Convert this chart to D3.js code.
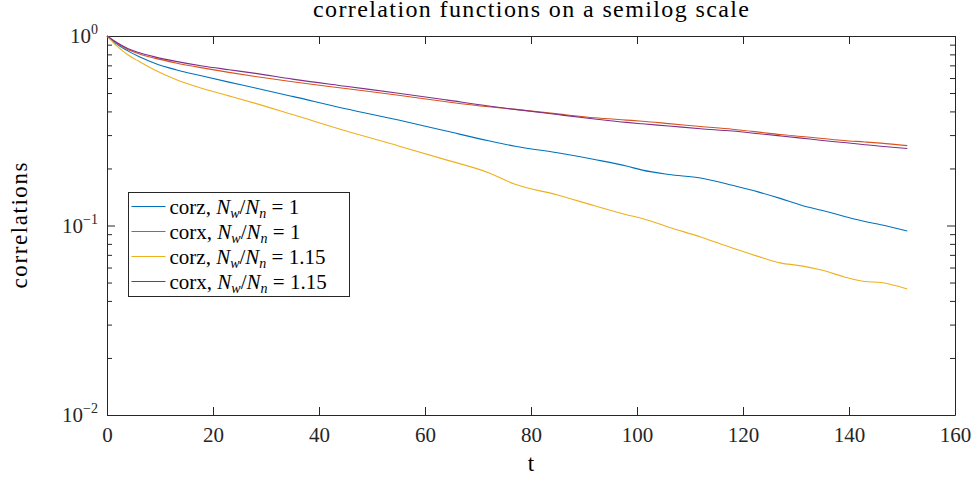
<!DOCTYPE html>
<html>
<head>
<meta charset="utf-8">
<script src="https://cdn.jsdelivr.net/npm/d3@7"></script>
<style>
  body { margin: 0; background: #fff; }
  svg { display: block; }
</style>
</head>
<body>
<svg width="974" height="478"></svg>
<script>
// time steps
const tValues = [0, 2, 4, 6, 9, 13, 18, 23, 28, 35, 45, 55, 64, 72, 77, 85, 92, 98, 101, 106, 112, 118, 123, 127, 131, 135, 139, 143, 146, 151];

// corz, Nw/Nn = 1
const corz1 = [1, 0.90, 0.832, 0.78, 0.719, 0.664, 0.615, 0.571, 0.532, 0.48, 0.413, 0.36, 0.315, 0.28, 0.262, 0.242, 0.223, 0.206, 0.196, 0.186, 0.178, 0.163, 0.15, 0.139, 0.128, 0.12, 0.112, 0.105, 0.101, 0.0935];
// corx, Nw/Nn = 1
const corx1 = [1, 0.912, 0.847, 0.807, 0.764, 0.721, 0.679, 0.643, 0.611, 0.573, 0.528, 0.487, 0.45, 0.423, 0.41, 0.388, 0.37, 0.36, 0.355, 0.345, 0.333, 0.322, 0.311, 0.302, 0.295, 0.288, 0.281, 0.276, 0.272, 0.264];
// corz, Nw/Nn = 1.15
const corz115 = [1, 0.879, 0.794, 0.735, 0.661, 0.589, 0.528, 0.483, 0.441, 0.385, 0.316, 0.263, 0.222, 0.19, 0.165, 0.145, 0.127, 0.114, 0.109, 0.098, 0.087, 0.076, 0.0685, 0.0635, 0.0612, 0.058, 0.0537, 0.0506, 0.05, 0.0462];
// corx, Nw/Nn = 1.15
const corx115 = [1, 0.918, 0.857, 0.818, 0.776, 0.735, 0.695, 0.664, 0.635, 0.592, 0.543, 0.499, 0.46, 0.427, 0.41, 0.385, 0.365, 0.35, 0.344, 0.335, 0.324, 0.315, 0.305, 0.297, 0.289, 0.281, 0.274, 0.267, 0.262, 0.255];

const seriesNames = ["corz", "corx", "corz", "corx"];
const ratioLabels = ["1", "1", "1.15", "1.15"];
const colors = ["#0072BD", "#D95319", "#EDB120", "#7E2F8E"];
const xTicks = [0, 20, 40, 60, 80, 100, 120, 140, 160];
const yMajorTicks = [0.01, 0.1, 1];
const yExponents = ["\u22122", "\u22121", "0"];

const svg = d3.select("svg");
const axisColor = "#262626";
const serif = "Liberation Serif";

const margin = { top: 36, right: 19, bottom: 63, left: 107 };
const width = +svg.attr("width");
const height = +svg.attr("height");
const innerWidth = width - margin.left - margin.right;
const innerHeight = height - margin.top - margin.bottom;

const xScale = d3.scaleLinear().domain([0, 160]).range([0, innerWidth]);
const yScale = d3.scaleLog().domain([0.01, 1]).range([innerHeight, 0]);

const g = svg.append("g")
  .attr("transform", `translate(${margin.left}, ${margin.top})`)
  .attr("font-family", serif);

// minor log ticks
const yMinorTicks = [];
[0.01, 0.1].forEach((base) => {
  for (let k = 2; k <= 9; k++) yMinorTicks.push(base * k);
});

const styleAxis = (sel) => {
  sel.attr("font-family", serif);
  sel.select(".domain").attr("stroke", axisColor);
  sel.selectAll(".tick line").attr("stroke", axisColor);
  sel.selectAll(".tick text")
    .attr("fill", axisColor)
    .attr("font-size", 21);
};
const dropLabels = (sel) => sel.selectAll(".tick text").remove();

// bottom axis
g.append("g")
  .attr("transform", `translate(0, ${innerHeight})`)
  .call(d3.axisBottom(xScale).tickValues(xTicks).tickSize(-8).tickSizeOuter(0).tickPadding(12))
  .call(styleAxis);

// top axis
g.append("g")
  .call(d3.axisTop(xScale).tickValues(xTicks).tickSize(-8).tickSizeOuter(0))
  .call(styleAxis)
  .call(dropLabels);

// left + right axes (major and minor ticks)
const addYAxis = (axisFn, x, withLabels) => {
  const ax = g.append("g").attr("transform", `translate(${x}, 0)`);
  ax.call(axisFn(yScale).tickValues(yMajorTicks).tickSize(-8).tickSizeOuter(0))
    .call(styleAxis)
    .call(dropLabels);
  const minor = g.append("g").attr("transform", `translate(${x}, 0)`);
  minor.call(axisFn(yScale).tickValues(yMinorTicks).tickSize(-5).tickSizeOuter(0))
    .call(styleAxis)
    .call(dropLabels);
  minor.select(".domain").remove();
  if (withLabels) {
    const lab = ax.selectAll(".ylab")
      .data(yMajorTicks)
      .join("text")
      .attr("class", "ylab")
      .attr("x", -9)
      .attr("y", (d) => yScale(d) + 7)
      .attr("text-anchor", "end")
      .attr("fill", axisColor)
      .attr("font-size", 21);
    lab.append("tspan").text("10");
    lab.append("tspan")
      .attr("dy", -9)
      .attr("font-size", 14)
      .text((d, i) => yExponents[i]);
  }
};
addYAxis(d3.axisLeft, 0, true);
addYAxis(d3.axisRight, innerWidth, false);

// lines
const allSeries = [corz1, corx1, corz115, corx115];
const line = d3.line()
  .x((d, i) => xScale(tValues[i]))
  .y((d) => yScale(d))
  .curve(d3.curveMonotoneX);

g.selectAll(".series")
  .data(allSeries)
  .join("path")
  .attr("class", "series")
  .attr("fill", "none")
  .attr("stroke", (d, i) => colors[i])
  .attr("stroke-width", 1.1)
  .attr("d", line);

// title and axis labels
g.append("text")
  .attr("x", innerWidth / 2)
  .attr("y", -19)
  .attr("text-anchor", "middle")
  .attr("font-size", 24)
  .attr("textLength", 436)
  .attr("lengthAdjust", "spacing")
  .attr("fill", "#000")
  .text("correlation functions on a semilog scale");

g.append("text")
  .attr("x", innerWidth / 2)
  .attr("y", innerHeight + 56)
  .attr("text-anchor", "middle")
  .attr("font-size", 23)
  .attr("fill", "#000")
  .text("t");

svg.append("text")
  .attr("transform", `translate(27, ${margin.top + innerHeight / 2}) rotate(-90)`)
  .attr("text-anchor", "middle")
  .attr("font-family", serif)
  .attr("font-size", 23)
  .attr("textLength", 126)
  .attr("lengthAdjust", "spacing")
  .attr("fill", "#000")
  .text("correlations");

// legend
const legend = svg.append("g")
  .attr("transform", "translate(128.5, 192.5)")
  .attr("font-family", serif);
legend.append("rect")
  .attr("width", 221)
  .attr("height", 104)
  .attr("fill", "#fff")
  .attr("stroke", axisColor);

const rows = legend.selectAll(".row")
  .data(seriesNames)
  .join("g")
  .attr("class", "row")
  .attr("transform", (d, i) => `translate(0, ${14 + i * 25})`);

rows.append("line")
  .attr("x1", 3)
  .attr("x2", 37)
  .attr("stroke", (d, i) => colors[i])
  .attr("stroke-width", 1.1);

const label = rows.append("text")
  .attr("x", 41)
  .attr("y", 7)
  .attr("font-size", 21)
  .attr("fill", "#000");
label.append("tspan").text((d) => d + ", ");
label.append("tspan").attr("font-style", "italic").text("N");
label.append("tspan").attr("font-style", "italic").attr("font-size", 14).attr("dy", 4).text("w");
label.append("tspan").attr("dy", -4).text("/");
label.append("tspan").attr("font-style", "italic").text("N");
label.append("tspan").attr("font-style", "italic").attr("font-size", 14).attr("dy", 4).text("n");
label.append("tspan").attr("dy", -4).text((d, i) => " = " + ratioLabels[i]);
</script>
</body>
</html>
